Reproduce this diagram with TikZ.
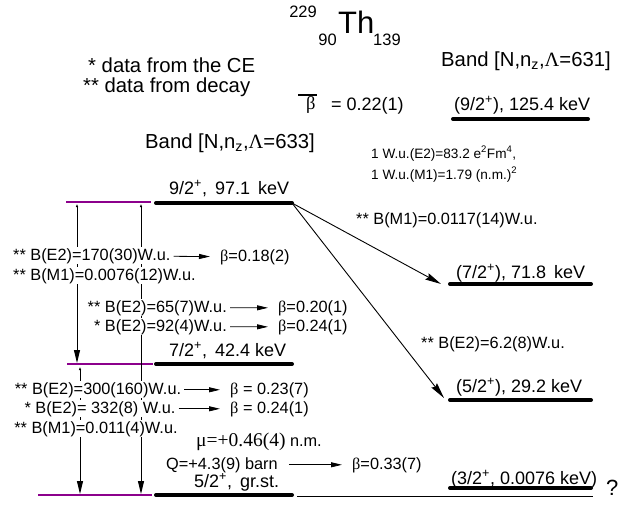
\documentclass[tikz,border=0pt]{standalone}
\usepackage{fontspec}
\setmainfont{Liberation Sans}
\newfontfamily\grk{Liberation Serif}
\usetikzlibrary{arrows.meta,positioning}
\definecolor{bandlila}{RGB}{140,0,140}
\tikzset{
  level/.style={line width=4pt,line cap=round},
  short/.style={-{Triangle[length=11pt,width=5pt]},line width=0.8pt,shorten <=2pt,shorten >=9pt},
}

\begin{document}
\begin{tikzpicture}[
  x=1pt,y=-1pt,
  every node/.style={inner sep=1pt},
  lab/.style={font=\fontsize{16.3}{18}\selectfont,fill=white},
  lev/.style={font=\fontsize{18}{20}\selectfont},
  note/.style={font=\fontsize{13.6}{16}\selectfont},
  big/.style={font=\fontsize{20.3}{23}\selectfont},
  down/.style={{Latex[length=3pt,width=2.5pt]}-{Triangle[length=13pt,width=6pt]},line width=0.9pt},
  diag/.style={-{Stealth[length=16pt,width=7pt,inset=2pt]},line width=0.9pt}
]
\useasboundingbox (0,0) rectangle (621,504);

% levels of the 633 band
\draw[bandlila,line width=1.5pt] (66,202) -- (151,202);
\draw[bandlila,line width=1.5pt] (67,364) -- (153,364);
\draw[bandlila,line width=1.5pt] (38,495) -- (152,495);
\draw[level] (156,203) -- (292,203);
\draw[level] (156,364) -- (292,364);
\draw[level] (156,495) -- (292,495);
\draw[line width=0.9pt] (297,496) -- (593,496);

% levels of the 631 band
\draw[level] (453,119) -- (588,119);
\draw[level] (450,284) -- (591,284);
\draw[level] (450,400) -- (591,400);
\draw[level] (450,488) -- (591,488);

\coordinate (n9) at (292,203);
\coordinate (m7) at (441,284);
\coordinate (m5) at (444,398);
\coordinate (t1) at (77,204);
\coordinate (e1) at (77,363);
\coordinate (t2) at (141,204);
\coordinate (e2) at (141,494);
\coordinate (t3) at (80,367);
\coordinate (e3) at (80,494);

\draw[diag] (n9) -- (m7);
\draw[diag] (n9) -- (m5);
\draw[down] (t1) -- (e1);
\draw[down] (t2) -- (e2);
\draw[down] (t3) -- (e3);

% title
\node[font=\fontsize{31}{34}\selectfont,anchor=base west,inner sep=0pt] (th) at (338,33) {Th};
\node[font=\fontsize{16.5}{18}\selectfont,anchor=base east] (mass) at (318,17) {229};
\node[font=\fontsize{16.5}{18}\selectfont,anchor=base east] (zet) at (338,45) {90};
\node[font=\fontsize{16.5}{18}\selectfont,anchor=base west] (neu) at (372,45) {139};

\node[big,anchor=base west] (ce) at (87,72) {* data from the CE};
\node[big,anchor=base west] (dec) at (82,92) {** data from decay};
\node[big,anchor=base west] (band1) at (440,66) {Band [N,n\textsubscript{z},{\grk Λ}=631]};
\node[big,anchor=base west] (band3) at (144,148) {Band [N,n\textsubscript{z},{\grk Λ}=633]};

\node[font=\fontsize{18.5}{20}\selectfont\grk,anchor=base west] (bbar) at (305,109) {β};
\draw[line width=2pt] (298,95) -- (317,95);
\node[font=\fontsize{18}{20}\selectfont,anchor=base west] (bval) at (330,110) {= 0.22(1)};

\node[note,anchor=base west] (wu1) at (370,158) {1 W.u.(E2)=83.2 e\textsuperscript{2}Fm\textsuperscript{4},};
\node[note,anchor=base west] (wu2) at (370,179) {1 W.u.(M1)=1.79 (n.m.)\textsuperscript{2}};

% level labels
\node[lev,anchor=base west] (l97) at (168,194) {9/2\textsuperscript{+},\, 97.1\, keV};
\node[lev,anchor=base west] (l42) at (168,356) {7/2\textsuperscript{+},\, 42.4 keV};
\node[lev,anchor=base west] (l0) at (193,487) {5/2\textsuperscript{+},\, gr.st.};
\node[lev,anchor=base west] (l125) at (453,110) {(9/2\textsuperscript{+}), 125.4 keV};
\node[lev,anchor=base west] (l71) at (455,278) {(7/2\textsuperscript{+}), 71.8\, keV};
\node[lev,anchor=base west] (l29) at (455,392) {(5/2\textsuperscript{+}), 29.2 keV};
\node[lev,anchor=base west] (l3) at (450,484) {(3/2\textsuperscript{+}, 0.0076 keV)};
\node[font=\fontsize{22}{24}\selectfont,anchor=base west] (qm) at (605,495) {?};

% transition strengths
\node[lab,anchor=base west] (b1) at (355,224) {** B(M1)=0.0117(14)W.u.};
\node[lab,anchor=base west] (b2) at (420,348) {** B(E2)=6.2(8)W.u.};

\node[lab,anchor=base west] (b3) at (12,260) {** B(E2)=170(30)W.u.};
\node[lab,anchor=base west] (b4) at (12,280) {** B(M1)=0.0076(12)W.u.};
\node[lab,anchor=base west] (be3) at (219,261) {{\grk β}=0.18(2)};

\node[lab,anchor=base east] (b5) at (228,312) {** B(E2)=65(7)W.u.};
\node[lab,anchor=base east] (b6) at (228,331) {* B(E2)=92(4)W.u.};
\node[lab,anchor=base west] (be5) at (277,312) {{\grk β}=0.20(1)};
\node[lab,anchor=base west] (be6) at (277,331) {{\grk β}=0.24(1)};

\node[lab,anchor=base] (b7) at (98,394) {** B(E2)=300(160)W.u.};
\node[lab,anchor=base] (b8) at (100,413) {* B(E2)= 332(8) W.u.};
\node[lab,anchor=base] (b9) at (96,433) {** B(M1)=0.011(4)W.u.};
\node[lab,anchor=base west] (be7) at (229,394) {{\grk β} = 0.23(7)};
\node[lab,anchor=base west] (be8) at (229,413) {{\grk β} = 0.24(1)};

\node[lab,anchor=base west] (mu) at (195,446) {{\grk\fontsize{19.5}{21}\selectfont μ=+0.46(4)} n.m.};
\node[lab,anchor=base west] (qq) at (165,469) {Q=+4.3(9) barn};
\node[lab,anchor=base west] (be0) at (351,469) {{\grk β}=0.33(7)};

\draw[short] (b3) -- (be3);
\draw[short] (b5) -- (be5);
\draw[short] (b6) -- (be6);
\draw[short] (b7.east) -- (be7.west |- b7.east);
\draw[short] (b8.east) -- (be8.west |- b8.east);
\draw[short] ([xshift=8pt]qq.east) -- (be0.west |- qq.east);
\end{tikzpicture}
\end{document}
